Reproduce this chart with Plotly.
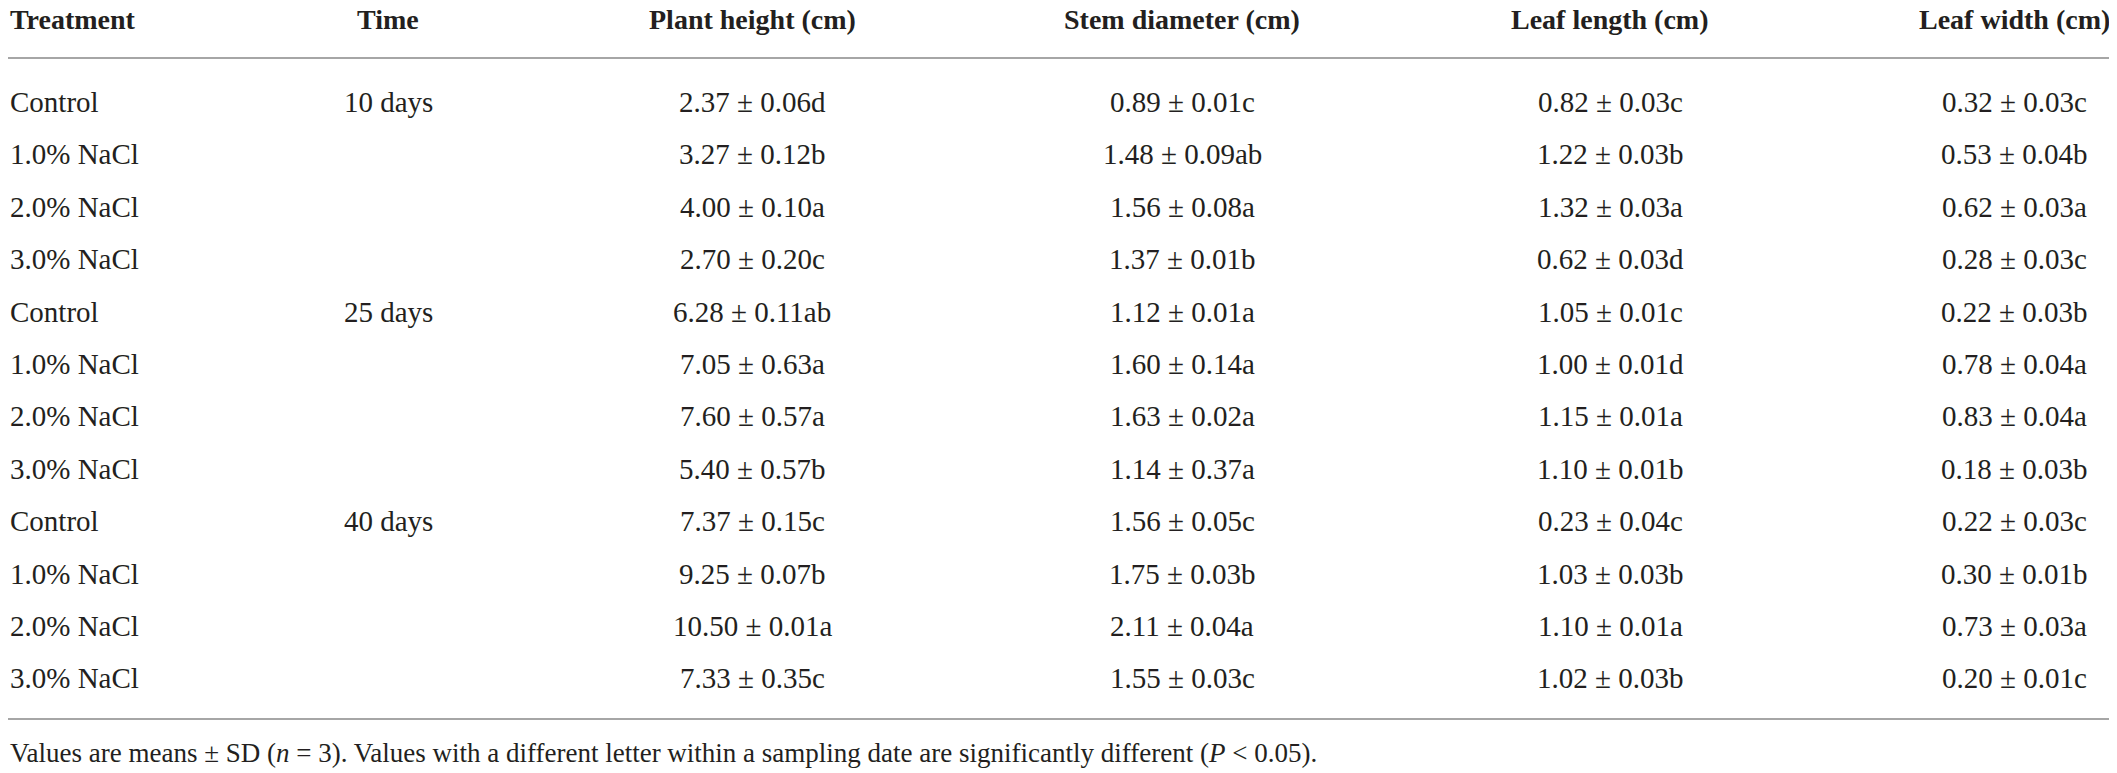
#Growth of seedlings under NaCl treatments - table of means +/- SD
import plotly.graph_objects as go

treatments = ["Control", "1.0% NaCl", "2.0% NaCl", "3.0% NaCl"] * 3
times = ["10 days", "", "", "", "25 days", "", "", "", "40 days", "", "", ""]

headers = ["Treatment", "Time", "Plant height (cm)", "Stem diameter (cm)",
           "Leaf length (cm)", "Leaf width (cm)"]

height_mean = [2.37, 3.27, 4.00, 2.70, 6.28, 7.05, 7.60, 5.40, 7.37, 9.25, 10.50, 7.33]
height_sd = [0.06, 0.12, 0.10, 0.20, 0.11, 0.63, 0.57, 0.57, 0.15, 0.07, 0.01, 0.35]
height_let = ["d", "b", "a", "c", "ab", "a", "a", "b", "c", "b", "a", "c"]

stem_mean = [0.89, 1.48, 1.56, 1.37, 1.12, 1.60, 1.63, 1.14, 1.56, 1.75, 2.11, 1.55]
stem_sd = [0.01, 0.09, 0.08, 0.01, 0.01, 0.14, 0.02, 0.37, 0.05, 0.03, 0.04, 0.03]
stem_let = ["c", "ab", "a", "b", "a", "a", "a", "a", "c", "b", "a", "c"]

length_mean = [0.82, 1.22, 1.32, 0.62, 1.05, 1.00, 1.15, 1.10, 0.23, 1.03, 1.10, 1.02]
length_sd = [0.03, 0.03, 0.03, 0.03, 0.01, 0.01, 0.01, 0.01, 0.04, 0.03, 0.01, 0.03]
length_let = ["c", "b", "a", "d", "c", "d", "a", "b", "c", "b", "a", "b"]

width_mean = [0.32, 0.53, 0.62, 0.28, 0.22, 0.78, 0.83, 0.18, 0.22, 0.30, 0.73, 0.20]
width_sd = [0.03, 0.04, 0.03, 0.03, 0.03, 0.04, 0.04, 0.03, 0.03, 0.01, 0.03, 0.01]
width_let = ["c", "b", "a", "c", "b", "a", "a", "b", "c", "b", "a", "c"]

footnote = ("Values are means ± SD (<i>n</i> = 3). Values with a different letter within a "
            "sampling date are significantly different (<i>P</i> < 0.05).")

W, H = 2117, 773
OFF = 8  # page body margin, axes are shifted so coordinates are window pixels
FONT = "Liberation Serif"
INK = "#231f20"
RULE = "#a6a6a6"

# layout: column anchors (px) and row geometry
col_x = [8, 388, 752, 1182, 1610, 2014]
head_y = 19
row0_y = 102
row_step = 52.4
rule_y = [58, 719]
foot_y = 753


def fmt(m, s, l):
    return [f"{a:.2f} ± {b:.2f}{c}" for a, b, c in zip(m, s, l)]


columns = [treatments, times,
           fmt(height_mean, height_sd, height_let),
           fmt(stem_mean, stem_sd, stem_let),
           fmt(length_mean, length_sd, length_let),
           fmt(width_mean, width_sd, width_let)]

fig = go.Figure()
# invisible trace to hold the axes
fig.add_trace(go.Scatter(x=[OFF, W], y=[OFF, H], mode="markers",
                         marker=dict(opacity=0), hoverinfo="skip", showlegend=False))

anns = []
for ci, (hdr, col) in enumerate(zip(headers, columns)):
    anchor = "left" if ci == 0 else "center"
    anns.append(dict(x=col_x[ci], y=head_y, text="<b>" + hdr + "</b>",
                     xanchor=anchor, yanchor="middle", showarrow=False,
                     font=dict(family=FONT, size=28, color=INK)))
    for ri, val in enumerate(col):
        if not val:
            continue
        anns.append(dict(x=col_x[ci], y=row0_y + ri * row_step, text=val,
                         xanchor=anchor, yanchor="middle", showarrow=False,
                         font=dict(family=FONT, size=29, color=INK)))

anns.append(dict(x=col_x[0], y=foot_y, text=footnote, xanchor="left", yanchor="middle",
                 showarrow=False, font=dict(family=FONT, size=27, color=INK)))

shapes = [dict(type="line", x0=OFF, x1=2112, y0=y, y1=y, xref="x", yref="y",
               line=dict(color=RULE, width=2)) for y in rule_y]

fig.update_layout(
    width=W, height=H,
    margin=dict(l=0, r=0, t=0, b=0),
    plot_bgcolor="white", paper_bgcolor="white",
    annotations=anns, shapes=shapes,
    xaxis=dict(range=[OFF, W + OFF], visible=False, fixedrange=True),
    yaxis=dict(range=[H + OFF, OFF], visible=False, fixedrange=True),
)

fig.write_html("out.html")
